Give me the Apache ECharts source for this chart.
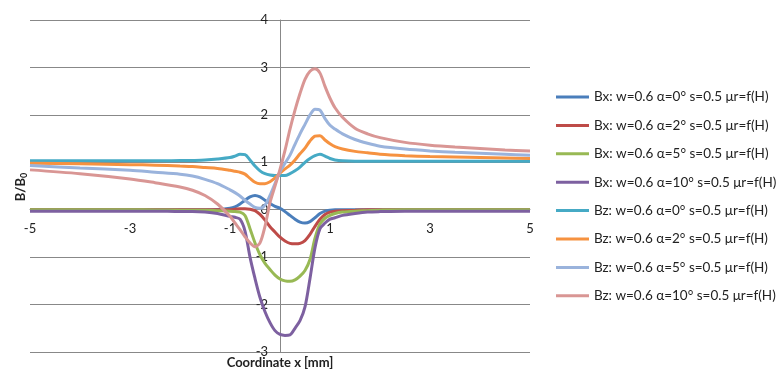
<!DOCTYPE html>
<html>
<head>
<meta charset="utf-8">
<script src="https://cdn.jsdelivr.net/npm/echarts@6/dist/echarts.min.js"></script>
<style>
  html, body { margin: 0; padding: 0; background: #fff; }
  #chart { width: 779px; height: 372px; }
</style>
</head>
<body>
<div id="chart"></div>
<script>
// sample positions along x [mm]
const xs = [-5, -4, -3, -2.5, -2, -1.75, -1.5, -1.25, -1, -0.9, -0.8, -0.7, -0.6, -0.5, -0.4, -0.3, -0.2, -0.1, 0,
  0.1, 0.2, 0.3, 0.4, 0.5, 0.6, 0.7, 0.8, 0.9, 1, 1.1, 1.25, 1.5, 1.75, 2, 2.5, 3, 3.5, 4, 4.5, 5]

const bx0 = [0, 0, 0, 0, 0, 0, 0, 0.005, 0.03, 0.06, 0.12, 0.2, 0.27, 0.3, 0.27, 0.2, 0.13, 0.07, 0.03,
  -0.04, -0.12, -0.2, -0.26, -0.28, -0.25, -0.17, -0.08, -0.03, -0.01, 0, 0, 0, 0, 0, 0, 0, 0, 0, 0, 0]
const bx2 = [0, 0, 0, 0, 0, 0, 0, 0, 0, 0.01, 0.02, 0.02, 0.01, -0.02, -0.1, -0.22, -0.36, -0.47, -0.58,
  -0.66, -0.71, -0.72, -0.71, -0.65, -0.52, -0.35, -0.2, -0.1, -0.05, -0.03, -0.02, -0.01, 0, 0, 0, 0, 0, 0, 0, 0]
const bx5 = [0, 0, 0, -0.005, -0.01, -0.01, -0.01, -0.02, -0.03, -0.04, -0.05, -0.12, -0.4, -0.7, -0.95, -1.13, -1.26, -1.38, -1.46,
  -1.5, -1.51, -1.48, -1.4, -1.28, -1.05, -0.6, -0.3, -0.18, -0.12, -0.08, -0.05, -0.03, -0.02, -0.01, 0, 0, 0, 0, 0, 0]
const bx10 = [-0.03, -0.03, -0.03, -0.03, -0.04, -0.04, -0.05, -0.08, -0.14, -0.16, -0.2, -0.45, -1.0, -1.45, -1.85, -2.15, -2.38, -2.55, -2.63,
  -2.65, -2.64, -2.5, -2.34, -2.05, -1.45, -0.8, -0.4, -0.28, -0.2, -0.17, -0.12, -0.08, -0.05, -0.04, -0.03, -0.03, -0.03, -0.03, -0.03, -0.03]
const bz0 = [1.03, 1.03, 1.03, 1.03, 1.04, 1.04, 1.05, 1.07, 1.1, 1.13, 1.17, 1.16, 1.05, 0.92, 0.82, 0.76, 0.73, 0.72, 0.72,
  0.72, 0.76, 0.82, 0.9, 1.0, 1.08, 1.14, 1.17, 1.13, 1.08, 1.05, 1.03, 1.02, 1.02, 1.02, 1.02, 1.02, 1.02, 1.02, 1.02, 1.02]
const bz2 = [0.98, 0.97, 0.95, 0.94, 0.92, 0.91, 0.89, 0.87, 0.83, 0.81, 0.79, 0.75, 0.66, 0.58, 0.55, 0.55, 0.59, 0.67, 0.77,
  0.86, 0.94, 1.05, 1.18, 1.3, 1.45, 1.55, 1.56, 1.47, 1.39, 1.33, 1.28, 1.23, 1.2, 1.17, 1.14, 1.12, 1.11, 1.1, 1.09, 1.08]
const bz5 = [0.93, 0.88, 0.83, 0.79, 0.75, 0.71, 0.64, 0.55, 0.42, 0.36, 0.29, 0.2, 0.12, 0.05, 0.03, 0.1, 0.3, 0.55, 0.8,
  0.98, 1.15, 1.38, 1.6, 1.8, 2.0, 2.12, 2.1, 1.92, 1.78, 1.7, 1.6, 1.48, 1.4, 1.34, 1.28, 1.24, 1.21, 1.19, 1.17, 1.15]
const bz10 = [0.84, 0.76, 0.65, 0.57, 0.48, 0.41, 0.3, 0.12, -0.14, -0.28, -0.42, -0.57, -0.7, -0.78, -0.7, -0.35, 0.15, 0.5, 0.85,
  1.25, 1.7, 2.1, 2.45, 2.75, 2.92, 2.97, 2.88, 2.6, 2.35, 2.15, 1.95, 1.72, 1.6, 1.52, 1.42, 1.36, 1.32, 1.29, 1.26, 1.24]

const seriesNames = [
  'Bx: w=0.6 α=0° s=0.5 μr=f(H)',
  'Bx: w=0.6 α=2° s=0.5 μr=f(H)',
  'Bx: w=0.6 α=5° s=0.5 μr=f(H)',
  'Bx: w=0.6 α=10° s=0.5 μr=f(H)',
  'Bz: w=0.6 α=0° s=0.5 μr=f(H)',
  'Bz: w=0.6 α=2° s=0.5 μr=f(H)',
  'Bz: w=0.6 α=5° s=0.5 μr=f(H)',
  'Bz: w=0.6 α=10° s=0.5 μr=f(H)'
]
const seriesValues = [bx0, bx2, bx5, bx10, bz0, bz2, bz5, bz10]
const colors = ['#4A7EBB', '#BE4B48', '#98B954', '#7D60A0', '#46AAC5', '#F69240', '#9AB3DC', '#D99694']

const font = 'Lato, "Open Sans", sans-serif'

const chart = echarts.init(document.getElementById('chart'))

const option = {
  animation: false,
  color: colors,
  grid: { left: 30, right: 249, top: 20, bottom: 20 },
  legend: {
    orient: 'vertical',
    left: 551,
    top: 84,
    icon: 'rect',
    itemWidth: 33,
    itemHeight: 3,
    itemGap: 12.4,
    textStyle: { fontFamily: font, fontSize: 13.5, lineHeight: 16, color: '#222' },
    data: seriesNames
  },
  xAxis: {
    type: 'value',
    min: -5,
    max: 5,
    interval: 2,
    offset: -142.3,
    axisLine: { onZero: false, lineStyle: { color: '#888', width: 1 } },
    axisTick: { show: false },
    splitLine: { show: false },
    axisLabel: { fontFamily: font, fontSize: 13, color: '#222', margin: 13 }
  },
  yAxis: {
    type: 'value',
    min: -3,
    max: 4,
    interval: 1,
    offset: -250,
    axisLine: { show: true, onZero: false, lineStyle: { color: '#888', width: 1 } },
    axisTick: { show: false },
    splitLine: { lineStyle: { color: '#888', width: 1 } },
    axisLabel: { fontFamily: font, fontSize: 13, color: '#222', margin: 12 }
  },
  graphic: [
    {
      type: 'text',
      x: 21,
      y: 187,
      rotation: Math.PI / 2,
      style: {
        text: 'B/B{s|0}',
        font: 'bold 13px ' + font,
        fill: '#222',
        align: 'center',
        verticalAlign: 'middle',
        rich: { s: { fontSize: 9, fontWeight: 'bold', fontFamily: font, verticalAlign: 'bottom', padding: [6, 0, 0, 0] } }
      }
    },
    {
      type: 'text',
      x: 280,
      y: 363,
      style: {
        text: 'Coordinate x [mm]',
        font: 'bold 13px ' + font,
        fill: '#222',
        align: 'center',
        verticalAlign: 'middle'
      }
    }
  ],
  series: seriesNames.map((name, i) => ({
    name: name,
    type: 'line',
    smooth: 0.3,
    symbol: 'none',
    lineStyle: { width: 3 },
    data: xs.map((x, j) => [x, seriesValues[i][j]])
  }))
}

chart.setOption(option)
</script>
</body>
</html>
